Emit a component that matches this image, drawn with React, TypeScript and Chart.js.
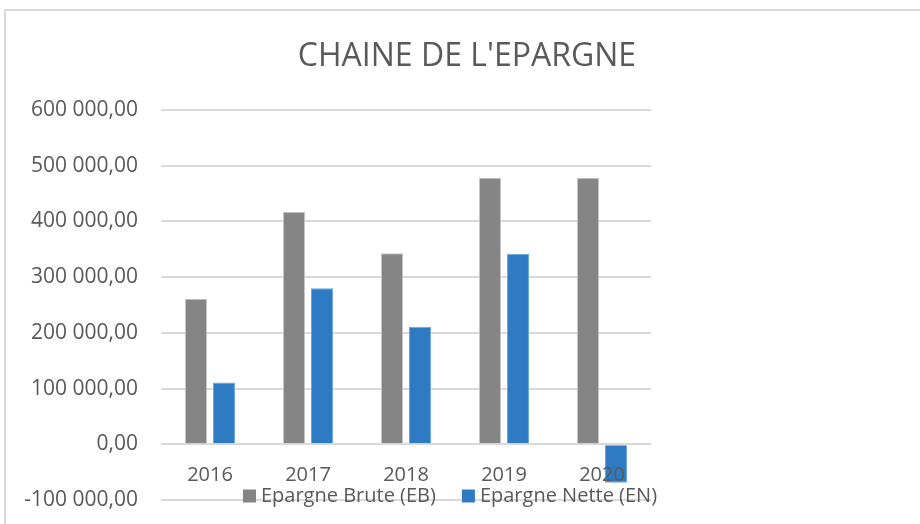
import React, { useEffect, useRef } from "react";
import { Chart, registerables } from "chart.js";

Chart.register(...registerables);

const titleText = "CHAINE DE L'EPARGNE";
const categories = ["2016", "2017", "2018", "2019", "2020"];
const seriesLabels = ["Epargne Brute (EB)", "Epargne Nette (EN)"];
const epargneBrute = [261000, 417000, 343000, 478500, 478500];
const epargneNette = [111000, 280000, 211000, 342000, -69000];
const yMin = -100000;
const yMax = 600000;
const yStep = 100000;

const FONT = "'Open Sans', 'DejaVu Sans', sans-serif";
const TEXT = "#595959";
const GRID = "#d9d9d9";
const GRAY = "#858585";
const BLUE = "#2f7bc3";

function fmt(v: number): string {
  const neg = v < 0;
  const s = Math.abs(Math.round(v))
    .toFixed(0)
    .replace(/\B(?=(\d{3})+(?!\d))/g, " ");
  return (neg ? "-" : "") + s + ",00";
}

const framePlugin = {
  id: "frame",
  beforeDraw(chart: any) {
    const ctx = chart.ctx;
    ctx.save();
    ctx.fillStyle = "#ffffff";
    ctx.fillRect(0, 0, chart.width, chart.height);
    ctx.strokeStyle = GRID;
    ctx.lineWidth = 2;
    ctx.beginPath();
    ctx.moveTo(5, chart.height);
    ctx.lineTo(5, 10);
    ctx.lineTo(chart.width, 10);
    ctx.stroke();
    ctx.restore();
  },
};

const titleLegendPlugin = {
  id: "titleLegend",
  afterDraw(chart: any) {
    const ctx = chart.ctx;
    ctx.save();
    // title
    ctx.fillStyle = TEXT;
    ctx.font = `32px ${FONT}`;
    ctx.textAlign = "center";
    ctx.textBaseline = "middle";
    ctx.fillText(titleText, 467, 57);
    // legend
    ctx.font = `20px ${FONT}`;
    ctx.textAlign = "left";
    const box = 13;
    const gapBoxText = 5;
    const gapItems = 26;
    const ds = chart.data.datasets;
    const widths = ds.map((d: any) => box + gapBoxText + ctx.measureText(d.label).width);
    const total = widths.reduce((a: number, b: number) => a + b, 0) + gapItems * (ds.length - 1);
    let x = 450 - total / 2;
    const yc = 496;
    ds.forEach((d: any, i: number) => {
      ctx.fillStyle = d.backgroundColor;
      ctx.fillRect(x, yc - box / 2, box, box);
      ctx.fillStyle = TEXT;
      ctx.fillText(d.label, x + box + gapBoxText, yc);
      x += widths[i] + gapItems;
    });
    ctx.restore();
  },
};

export default function App() {
  const ref = useRef<HTMLCanvasElement | null>(null);

  useEffect(() => {
    if (!ref.current) return;
    const chart = new Chart(ref.current, {
      type: "bar",
      data: {
        labels: categories,
        datasets: [
          {
            label: seriesLabels[0],
            data: epargneBrute,
            backgroundColor: GRAY,
            borderColor: "#c4c4c4",
            borderWidth: 1,
          },
          {
            label: seriesLabels[1],
            data: epargneNette,
            backgroundColor: BLUE,
            borderColor: "#6aa6de",
            borderWidth: 1,
          },
        ],
      },
      plugins: [framePlugin, titleLegendPlugin],
      options: {
        animation: false,
        responsive: false,
        maintainAspectRatio: false,
        devicePixelRatio: 1,
        datasets: {
          bar: {
            categoryPercentage: 0.571,
            barPercentage: 0.786,
          },
        },
        layout: {
          padding: { top: 110, left: 0, right: 269, bottom: 24 },
        },
        plugins: {
          legend: { display: false },
          title: { display: false },
          tooltip: { enabled: false },
        },
        scales: {
          x: {
            position: { y: 0 } as any,
            afterFit(scale: any) {
              scale.height = 0;
            },
            grid: { display: false, drawTicks: false },
            border: { display: false },
            ticks: {
              z: 1,
              color: TEXT,
              font: { family: FONT, size: 20 },
              padding: 19,
              maxRotation: 0,
            },
          },
          y: {
            min: yMin,
            max: yMax,
            afterFit(scale: any) {
              scale.width = 161;
              scale.paddingTop = 0;
              scale.paddingBottom = 0;
            },
            grid: {
              color: GRID,
              lineWidth: 2,
              drawTicks: false,
            },
            border: { display: false },
            ticks: {
              stepSize: yStep,
              color: TEXT,
              font: { family: FONT, size: 21 },
              padding: 23,
              callback: (v: any) => fmt(Number(v)),
            },
          },
        },
      },
    });
    return () => chart.destroy();
  }, []);

  return (
    <div style={{ position: "absolute", left: 0, top: 0, width: 920, height: 524 }}>
      <canvas ref={ref} width={920} height={524} style={{ width: 920, height: 524 }} />
    </div>
  );
}
